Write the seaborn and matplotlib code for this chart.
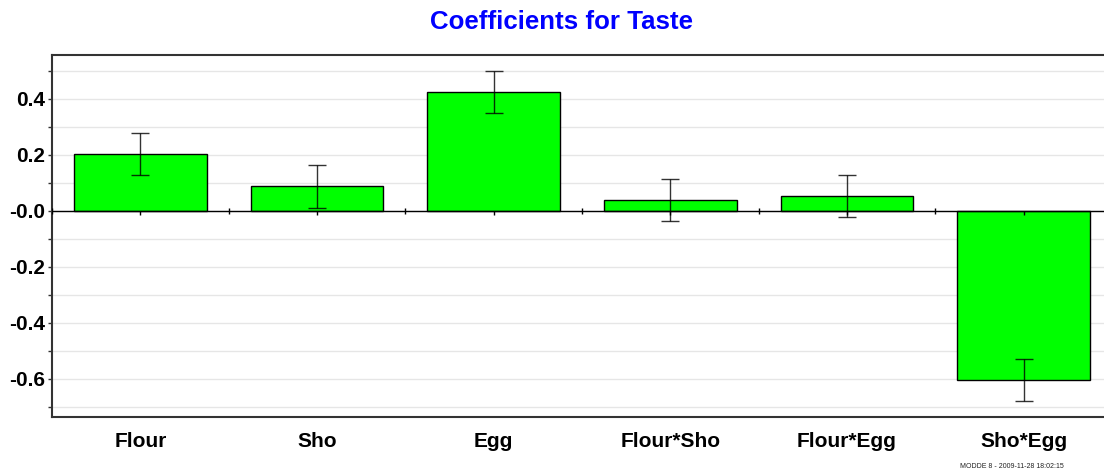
import numpy as np
import pandas as pd
import matplotlib
matplotlib.use("Agg")
import matplotlib.pyplot as plt
from matplotlib.ticker import MultipleLocator, FuncFormatter
import seaborn as sns

# Scaled and centred model coefficients for the response "Taste"
terms = ["Flour", "Sho", "Egg", "Flour*Sho", "Flour*Egg", "Sho*Egg"]
coefficients = [0.204, 0.088, 0.425, 0.039, 0.054, -0.603]
conf_int = [0.075, 0.076, 0.075, 0.075, 0.075, 0.075]

df = pd.DataFrame({"term": terms, "coef": coefficients, "ci": conf_int})

sns.set_theme(style="white")
plt.rcParams["font.family"] = ["Liberation Sans", "DejaVu Sans"]
plt.rcParams["font.weight"] = "bold"
plt.rcParams["text.color"] = "black"
plt.rcParams["xtick.color"] = "black"
plt.rcParams["ytick.color"] = "black"

fig = plt.figure(figsize=(11.04, 4.72), dpi=100)
ax = fig.add_axes([52 / 1104, 1 - 417 / 472, 1060 / 1104, 362 / 472])

sns.barplot(data=df, x="term", y="coef", color="#00ff00", edgecolor="black",
            linewidth=1.0, width=0.75, saturation=1, errorbar=None, ax=ax)

pos = np.arange(len(terms))
ax.errorbar(pos, df["coef"], yerr=df["ci"], fmt="none", ecolor="black",
            elinewidth=1.0, capsize=6.5, capthick=1.0, alpha=0.8, zorder=4)

# zero line with small tick marks at category centres and boundaries
ax.axhline(0, color="black", lw=1.0, zorder=3)
ax.plot(np.arange(-0.5, len(terms)), np.zeros(len(terms) + 1), ls="none",
        marker="|", ms=5, mew=1, color="black", zorder=3)
ax.plot(pos, np.full(len(terms), -0.006), ls="none",
        marker="|", ms=3, mew=1, color="black", zorder=3)

ax.set_xlim(-0.5, len(terms) - 0.5)
ax.set_ylim(-0.736, 0.557)
ax.yaxis.set_major_locator(MultipleLocator(0.2))
ax.yaxis.set_minor_locator(MultipleLocator(0.1))
ax.yaxis.set_major_formatter(FuncFormatter(
    lambda v, _: "-0.0" if abs(v) < 1e-9 else f"{v:.1f}"))
ax.grid(axis="y", which="both", color="#e6e6e6", lw=1.0)
ax.set_axisbelow(True)

for side in ["top", "left", "bottom"]:
    ax.spines[side].set_visible(True)
    ax.spines[side].set_color("#333333")
    ax.spines[side].set_linewidth(1.5)
ax.spines["right"].set_visible(False)

ax.tick_params(axis="y", which="both", left=True, length=3, width=1,
               color="#333333", labelcolor="black", labelsize=15, pad=2)
ax.tick_params(axis="x", bottom=False, labelcolor="black", labelsize=15, pad=5)
for lbl in ax.get_xticklabels() + ax.get_yticklabels():
    lbl.set_fontweight("bold")
ax.set_xlabel("")
ax.set_ylabel("")

fig.text(561 / 1104, 1 - 22 / 472, "Coefficients for Taste", color="#0000ff",
         fontsize=18.6, fontweight="bold", ha="center", va="center")
fig.text(1012 / 1104, 1 - 467 / 472, "MODDE 8 - 2009-11-28 18:02:15",
         fontsize=5, fontweight="normal", ha="center", va="center",
         color="#222222")

fig.savefig("out.png", dpi=100)
